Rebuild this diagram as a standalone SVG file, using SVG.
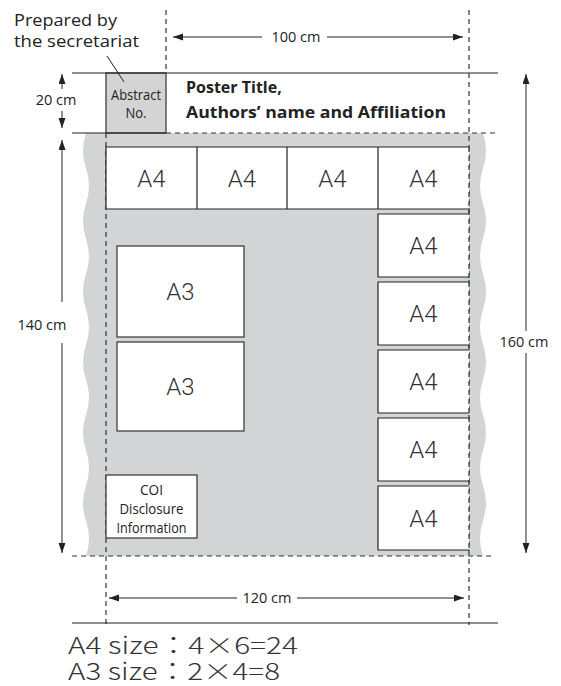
<svg xmlns="http://www.w3.org/2000/svg" width="561" height="686" viewBox="0 0 561 686">
<style>
.sol{stroke:#222;stroke-width:1.2;fill:none}
.dash{stroke:#333;stroke-width:1.2;fill:none;stroke-dasharray:5 4}
.dim{stroke:#222;stroke-width:1;fill:none}
.box{fill:#fff;stroke:#333;stroke-width:1.2}
.t{font-family:"Open Sans","Noto Sans",sans-serif;fill:#222}
.big{font-family:Roboto,"Liberation Sans",sans-serif;font-weight:300;font-size:24px;fill:#333;text-anchor:middle}
.cap{font-family:"Noto Sans CJK JP",Roboto,sans-serif;font-weight:300;font-size:23.5px;fill:#333}
</style>
<defs>
<marker id="ah" markerUnits="userSpaceOnUse" markerWidth="11" markerHeight="8" refX="10" refY="3.5" orient="auto">
<path d="M0,0 L10,3.5 L0,7 z" fill="#222"/>
</marker>
</defs>
<g id="background">
<path d="M86,133 Q80,150.625 86,168.25 T86,203.5 T86,238.75 T86,274 T86,309.25 T86,344.5 T86,379.75 T86,415 T86,450.25 T86,485.5 T86,520.75 T86,556 L483,556 Q477,538.375 483,520.75 T483,485.5 T483,450.25 T483,415 T483,379.75 T483,344.5 T483,309.25 T483,274 T483,238.75 T483,203.5 T483,168.25 T483,133 Z" fill="#d3d4d5"/>
</g>
<g id="header">
<rect x="106" y="73" width="60" height="60" fill="#d4d4d4" stroke="#333" stroke-width="1.2"/>
<text class="t" x="136" y="100" font-size="14" text-anchor="middle" textLength="50" lengthAdjust="spacingAndGlyphs">Abstract</text>
<text class="t" x="136" y="118" font-size="14" text-anchor="middle" textLength="21" lengthAdjust="spacingAndGlyphs">No.</text>
<text class="t" x="186" y="93" font-size="16" font-weight="bold">Poster Title,</text>
<text class="t" x="186" y="118" font-size="16" font-weight="bold" textLength="260" lengthAdjust="spacingAndGlyphs">Authors’ name and Affiliation</text>
<text class="t" x="14" y="26" font-size="16.5" textLength="103" lengthAdjust="spacingAndGlyphs">Prepared by</text>
<text class="t" x="14" y="47" font-size="16.5" textLength="125" lengthAdjust="spacingAndGlyphs">the secretariat</text>
<line class="dim" x1="107" y1="56" x2="124" y2="82"/>
</g>
<g id="lines">
<line class="sol" x1="72" y1="73" x2="498" y2="73"/>
<line class="sol" x1="72" y1="133" x2="166" y2="133"/>
<line class="dash" x1="166" y1="133" x2="495" y2="133"/>
<line class="dash" x1="166" y1="10" x2="166" y2="73"/>
<line class="dash" x1="469" y1="10" x2="469" y2="625"/>
<line class="dash" x1="106" y1="133" x2="106" y2="625"/>
<line class="dash" x1="72" y1="556" x2="494" y2="556"/>
<line class="sol" x1="72" y1="623" x2="498" y2="623"/>
</g>
<g id="top-row">
<rect x="106" y="147" width="363" height="62" fill="#fff"/>
<path class="sol" d="M469,147 H106 V209 H469 M197,147 V209 M287,147 V209 M378,147 V209" stroke="#333"/>
<text class="big" x="151.5" y="187">A4</text>
<text class="big" x="242" y="187">A4</text>
<text class="big" x="332.5" y="187">A4</text>
<text class="big" x="423.5" y="187">A4</text>
</g>
<g id="right-column">
<rect x="378" y="214" width="91" height="63" fill="#fff"/>
<rect x="378" y="282" width="91" height="63" fill="#fff"/>
<rect x="378" y="350" width="91" height="63" fill="#fff"/>
<rect x="378" y="418" width="91" height="63" fill="#fff"/>
<rect x="378" y="486" width="91" height="64" fill="#fff"/>
<path class="sol" stroke="#333" d="M469,214 H378 V277 H469 M469,282 H378 V345 H469 M469,350 H378 V413 H469 M469,418 H378 V481 H469 M469,486 H378 V550 H469"/>
<line class="dash" x1="469" y1="147" x2="469" y2="550"/>
<text class="big" x="423.5" y="254">A4</text>
<text class="big" x="423.5" y="322">A4</text>
<text class="big" x="423.5" y="390">A4</text>
<text class="big" x="423.5" y="458">A4</text>
<text class="big" x="423.5" y="527">A4</text>
</g>
<g id="a3-1">
<rect class="box" x="117" y="246" width="127" height="91"/>
<text class="big" x="180.5" y="300">A3</text>
</g>
<g id="a3-2">
<rect class="box" x="117" y="342" width="127" height="89"/>
<text class="big" x="180.5" y="395">A3</text>
</g>
<g id="coi">
<rect class="box" x="106" y="475" width="91" height="63"/>
<text class="t" x="151.5" y="495" font-size="14" text-anchor="middle" textLength="23" lengthAdjust="spacingAndGlyphs">COI</text>
<text class="t" x="151.5" y="514" font-size="14" text-anchor="middle" textLength="64" lengthAdjust="spacingAndGlyphs">Disclosure</text>
<text class="t" x="151.5" y="533" font-size="14" text-anchor="middle" textLength="70" lengthAdjust="spacingAndGlyphs">Information</text>
</g>
<g id="connectors">
<line class="dim" x1="262" y1="37" x2="173" y2="37" marker-end="url(#ah)"/>
<line class="dim" x1="327" y1="37" x2="463" y2="37" marker-end="url(#ah)"/>
<text class="t" x="296" y="42" font-size="14.5" text-anchor="middle">100 cm</text>
<line class="dim" x1="62" y1="89" x2="62" y2="74" marker-end="url(#ah)"/>
<line class="dim" x1="62" y1="111" x2="62" y2="128" marker-end="url(#ah)"/>
<text class="t" x="56" y="105" font-size="14.5" text-anchor="middle">20 cm</text>
<line class="dim" x1="62" y1="302" x2="62" y2="140" marker-end="url(#ah)"/>
<line class="dim" x1="62" y1="343" x2="62" y2="553" marker-end="url(#ah)"/>
<text class="t" x="42" y="330" font-size="14.5" text-anchor="middle">140 cm</text>
<line class="dim" x1="526" y1="331" x2="526" y2="74" marker-end="url(#ah)"/>
<line class="dim" x1="526" y1="353" x2="526" y2="553" marker-end="url(#ah)"/>
<text class="t" x="524" y="347" font-size="14.5" text-anchor="middle">160 cm</text>
<line class="dim" x1="237" y1="598" x2="109" y2="598" marker-end="url(#ah)"/>
<line class="dim" x1="297" y1="598" x2="464" y2="598" marker-end="url(#ah)"/>
<text class="t" x="267" y="603" font-size="14.5" text-anchor="middle">120 cm</text>
</g>
<g id="caption">
<text class="cap" x="68" y="654" textLength="230" lengthAdjust="spacingAndGlyphs">A4 size：4×6=24</text>
<text class="cap" x="68" y="680" textLength="212" lengthAdjust="spacingAndGlyphs">A3 size：2×4=8</text>
</g>
</svg>
